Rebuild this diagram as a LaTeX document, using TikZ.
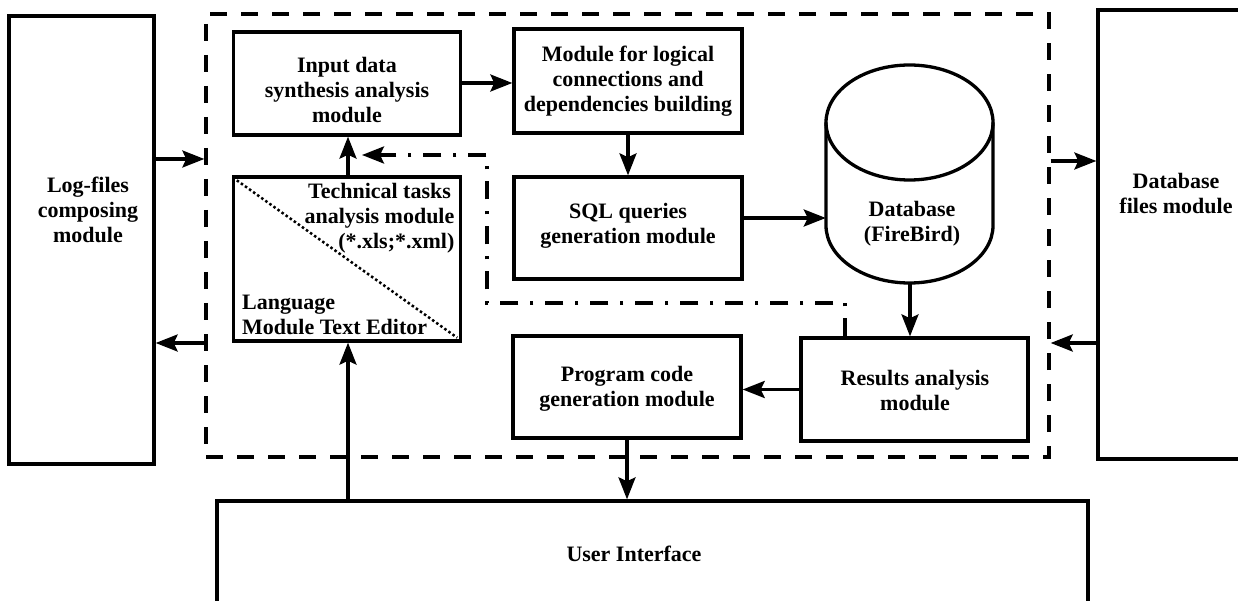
\documentclass[tikz,border=0pt]{standalone}
\usepackage{fontspec}
\setmainfont{Liberation Serif}
\usetikzlibrary{arrows.meta}
\tikzset{
  box/.style={draw, line width=3.3pt, inner sep=0pt},
  lbl/.style={font=\bfseries\fontsize{22}{25}\selectfont, align=center, inner sep=0pt},
  arr/.style={line width=3.3pt, -{Stealth[length=22pt,width=17pt,inset=4pt]}},
  framestyle/.style={draw, line width=3.3pt, dash pattern=on 17pt off 14pt, inner sep=0pt},
  dd/.style={line width=3.3pt, dash pattern=on 18pt off 12pt on 3pt off 12pt, -{Stealth[length=22pt,width=17pt,inset=4pt]}},
  diag/.style={line width=2.5pt, dash pattern=on 2.5pt off 2.5pt}
}
\begin{document}
\begin{tikzpicture}[x=1pt,y=-1pt]
\clip (0,0) rectangle (1238,601);
\fill[white] (0,0) rectangle (1238,601);
% outer dashed frame
\node[framestyle, minimum width=843pt, minimum height=443pt] (frame) at (627.5,235.5) {};
% side boxes
\node[box, minimum width=145pt, minimum height=448pt] (log) at (81.5,240) {};
\node[lbl] (logT) at (88,209.5) {Log-files\\composing\\module};
\node[box, minimum width=154pt, minimum height=449pt] (dbf) at (1175,234.5) {};
\node[lbl] (dbfT) at (1176,193.5) {Database\\files module};
% inner modules
\node[box, minimum width=227pt, minimum height=103pt] (input) at (347,83.5) {};
\node[lbl] (inputT) at (347,90) {Input data\\synthesis analysis\\module};
\node[box, minimum width=228pt, minimum height=104pt] (logic) at (628,81) {};
\node[lbl] (logicT) at (628,81) {Module for logical\\connections and\\dependencies building};
\node[box, minimum width=228pt, minimum height=102pt] (sql) at (628,228) {};
\node[lbl] (sqlT) at (628,225.5) {SQL queries\\generation module};
\node[box, minimum width=227pt, minimum height=164pt] (tech) at (347,259) {};
\node[lbl] (techT) at (379.5,218) {Technical tasks\\analysis module\\\hfill(*.xls;*.xml)};
\node[lbl, align=left, anchor=west] (langT) at (242,315) {Language\\Module Text Editor};
\draw[diag] ([shift={(5pt,-5pt)}]tech.north west) -- ([shift={(-5pt,5pt)}]tech.south east);
\node[box, minimum width=228pt, minimum height=102pt] (prog) at (627,387) {};
\node[lbl] (progT) at (627,389) {Program code\\generation module};
\node[box, minimum width=227pt, minimum height=103pt] (res) at (914.5,389.5) {};
\node[lbl] (resT) at (915,390.5) {Results analysis\\module};
% database cylinder
\node[inner sep=0pt, minimum width=167pt, minimum height=218pt] (db) at (909.5,174) {};
\draw[line width=3.3pt] (909.5,122.5) ellipse [x radius=83.5pt, y radius=57.5pt];
\draw[line width=3.3pt] (826,122.5) -- (826,225.5) arc[start angle=180, end angle=360, x radius=83.5pt, y radius=57.5pt] -- (993,122.5);
\node[lbl] (dbT) at (912,223.5) {Database\\(FireBird)};
% user interface
\node[box, minimum width=871pt, minimum height=139pt] (ui) at (652.5,570.5) {};
\node[lbl] (uiT) at (634,553.5) {User Interface};
% connectors
\draw[arr] (log.east |- 0,159) -- (frame.west |- 0,159);
\draw[arr] (frame.west |- 0,343) -- (log.east |- 0,343);
\draw[arr] (frame.east |- 0,161) -- (dbf.west |- 0,161);
\draw[arr] (dbf.west |- 0,343) -- (frame.east |- 0,343);
\draw[arr] (input.east |- 0,83) -- (logic.west |- 0,83);
\draw[arr] (logic.south) -- (sql.north);
\draw[arr] (tech.north -| 348,0) -- (input.south -| 348,0);
\draw[arr] (sql.east |- 0,218) -- (db.west |- 0,218);
\draw[arr] (db.south -| 910,0) -- (res.north -| 910,0);
\draw[arr] (res.west) -- (prog.east |- res.west);
\draw[arr] (prog.south) -- (ui.north -| prog.south);
\draw[arr] (ui.north -| 348,0) -- (tech.south -| 348,0);
\coordinate (ddtip) at (362,155);
\draw[dd] (res.north -| 845,0) -- (845,303) -- (487,303) -- (487,155) -- (ddtip);
\end{tikzpicture}
\end{document}
